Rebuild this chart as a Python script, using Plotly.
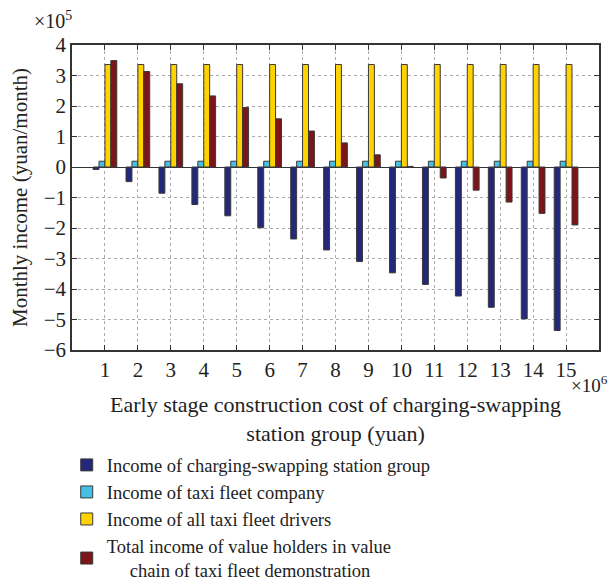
import plotly.graph_objects as go

cost_groups = list(range(1, 16))  # ×10^6 yuan
station_income = [-0.08, -0.48, -0.86, -1.23, -1.60, -1.99, -2.36, -2.72, -3.10, -3.47, -3.85, -4.23, -4.60, -4.98, -5.36]
fleet_company_income = [0.19] * 15
drivers_income = [3.36] * 15
total_income = [3.49, 3.13, 2.73, 2.33, 1.95, 1.58, 1.18, 0.79, 0.40, 0.02, -0.36, -0.76, -1.15, -1.52, -1.90]

series_names = [
    "Income of charging-swapping station group",
    "Income of taxi fleet company",
    "Income of all taxi fleet drivers",
    "Total income of value holders in value<br>\u00a0\u00a0\u00a0\u00a0\u00a0chain of taxi fleet demonstration",
]
series_values = [station_income, fleet_company_income, drivers_income, total_income]
series_colors = ["#23287a", "#45c0e4", "#ffd200", "#7d1418"]

y_tick_vals = [4, 3, 2, 1, 0, -1, -2, -3, -4, -5, -6]
y_tick_text = ["4", "3", "2", "1", "0", "\u22121", "\u22122", "\u22123", "\u22124", "\u22125", "\u22126"]

FONT = "Liberation Serif"

fig = go.Figure()
for name, vals, col in zip(series_names, series_values, series_colors):
    fig.add_trace(go.Bar(
        x=cost_groups, y=vals, name=name,
        marker=dict(color=col, line=dict(color="#3a3a3a", width=1)),
    ))

fig.update_layout(
    width=611, height=585,
    margin=dict(l=72, r=10, t=45, b=235),
    paper_bgcolor="white", plot_bgcolor="white",
    barmode="group", bargap=0.28, bargroupgap=0,
    font=dict(family=FONT, size=20, color="#222"),
    showlegend=True,
    legend=dict(
        x=-0.01, y=0.237, xanchor="left", yanchor="top", yref="container",
        font=dict(family=FONT, size=18.5, color="#222"),
        bgcolor="rgba(0,0,0,0)", tracegroupgap=0,
    ),
    xaxis=dict(
        range=[0, 16], tickvals=cost_groups, ticktext=[str(v) for v in cost_groups],
        ticks="inside", ticklen=5, tickcolor="#333",
        showline=True, linecolor="#333", linewidth=1.5, mirror="ticks",
        showgrid=True, gridcolor="#aaa", griddash="dot", gridwidth=1,
        tickfont=dict(family=FONT, size=21), ticklabelstandoff=0,
    ),
    yaxis=dict(
        range=[-6, 4], tickvals=y_tick_vals, ticktext=y_tick_text,
        ticks="inside", ticklen=5, tickcolor="#333",
        showline=True, linecolor="#333", linewidth=1.5, mirror="ticks",
        showgrid=True, gridcolor="#aaa", griddash="dot", gridwidth=1,
        zeroline=True, zerolinecolor="#333", zerolinewidth=1,
        tickfont=dict(family=FONT, size=21),
        title=dict(text="Monthly income (yuan/month)", font=dict(family=FONT, size=21), standoff=10),
    ),
    annotations=[
        dict(text="\u00d710<sup>5</sup>", xref="paper", yref="paper", x=-0.075, y=1.035,
             xanchor="left", yanchor="bottom", showarrow=False, font=dict(family=FONT, size=20)),
        dict(text="\u00d710<sup>6</sup>", xref="paper", yref="paper", x=1.02, y=-0.065,
             xanchor="right", yanchor="top", showarrow=False, font=dict(family=FONT, size=19)),
        dict(text="Early stage construction cost of charging-swapping<br>station group (yuan)",
             xref="paper", yref="paper", x=0.5, y=-0.13, xanchor="center", yanchor="top",
             showarrow=False, font=dict(family=FONT, size=22)),
    ],
)

fig.write_html("out.html")
